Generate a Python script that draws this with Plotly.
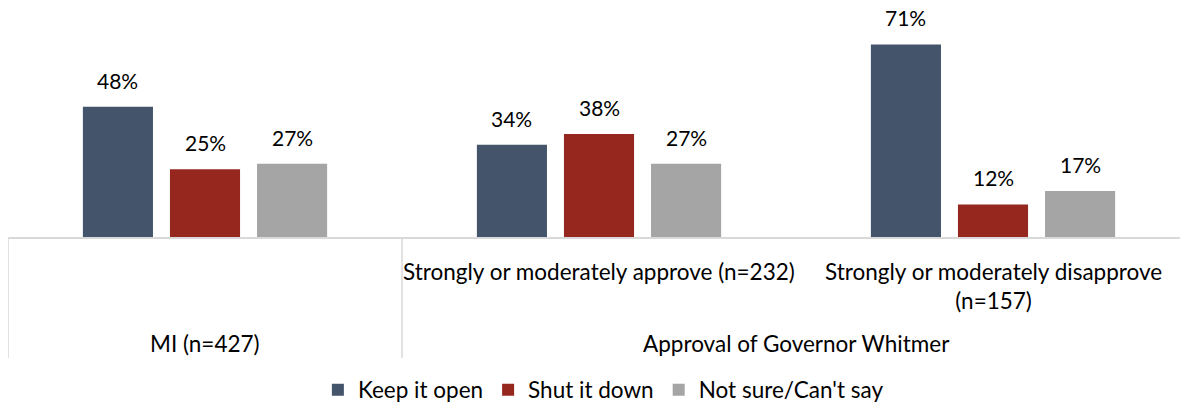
import plotly.graph_objects as go

# Survey responses by group (percent)
categories = ["MI", "Approve", "Disapprove"]
sub_labels = ["", "Strongly or moderately approve (n=232)",
              "Strongly or moderately disapprove<br>(n=157)"]
group_labels = ["MI (n=427)", "Approval of Governor Whitmer"]
series_names = ["Keep it open", "Shut it down", "Not sure/Can't say"]
keep_open = [48, 34, 71]
shut_down = [25, 38, 12]
not_sure = [27, 27, 17]

colors = ["#44546A", "#95271F", "#A5A5A5"]
FONT = "Lato"
FS_VAL = 21
FS_TXT = 22.5
BARGAP = 0.337

fig = go.Figure()
series = [keep_open, shut_down, not_sure]
for name, vals, col in zip(series_names, series, colors):
    fig.add_trace(go.Bar(
        name=name, x=categories, y=vals, marker_color=col,
        marker_line_width=0,
    ))

# value labels above each bar
slot = (1 - BARGAP) / len(series)
for si, vals in enumerate(series):
    off = (si - (len(series) - 1) / 2) * slot
    for ci, v in enumerate(vals):
        fig.add_annotation(x=ci + off, y=v, xref="x", yref="y",
                           text=f"{v}%", showarrow=False,
                           yanchor="bottom", yshift=12,
                           font=dict(family=FONT, size=FS_VAL, color="#000000"))

# plot geometry (pixels)
plot_h = 406 - 20 - 169

# category labels beneath the axis
for ci, lab in enumerate(sub_labels):
    if lab:
        fig.add_annotation(x=ci, y=0, xref="x", yref="paper",
                           text=lab, showarrow=False, yanchor="top",
                           yshift=-19,
                           font=dict(family=FONT, size=FS_TXT, color="#000000"))
fig.add_annotation(x=0, y=0, xref="x", yref="paper", text=group_labels[0],
                   showarrow=False, yanchor="middle", yshift=-106,
                   font=dict(family=FONT, size=FS_TXT, color="#000000"))
fig.add_annotation(x=1.5, y=0, xref="x", yref="paper", text=group_labels[1],
                   showarrow=False, yanchor="middle", yshift=-106,
                   font=dict(family=FONT, size=FS_TXT, color="#000000"))

# divider lines of the grouped axis
div_bottom = -121 / plot_h
for xv in (-0.5, 0.5):
    fig.add_shape(type="line", xref="x", yref="paper", x0=xv, x1=xv,
                  y0=0, y1=div_bottom,
                  line=dict(color="#D9D9D9", width=1.5))

fig.update_layout(
    width=1180, height=406,
    margin=dict(l=8, r=0, t=20, b=169, autoexpand=False),
    paper_bgcolor="white", plot_bgcolor="white",
    barmode="group", bargap=BARGAP, bargroupgap=0.195,
    font=dict(family=FONT, size=FS_TXT, color="#000000"),
    showlegend=True,
    legend=dict(orientation="h", x=0.508, xanchor="center",
                y=-(390 - 237) / plot_h, yanchor="middle",
                font=dict(family=FONT, size=FS_TXT), itemwidth=30,
                traceorder="normal"),
    xaxis=dict(range=[-0.5, 2.4746], showline=True, linecolor="#D9D9D9",
               linewidth=1.5, showticklabels=False, ticks="",
               showgrid=False, zeroline=False, fixedrange=True),
    yaxis=dict(range=[0, 80], visible=False, fixedrange=True),
)

fig.write_html("out.html")
